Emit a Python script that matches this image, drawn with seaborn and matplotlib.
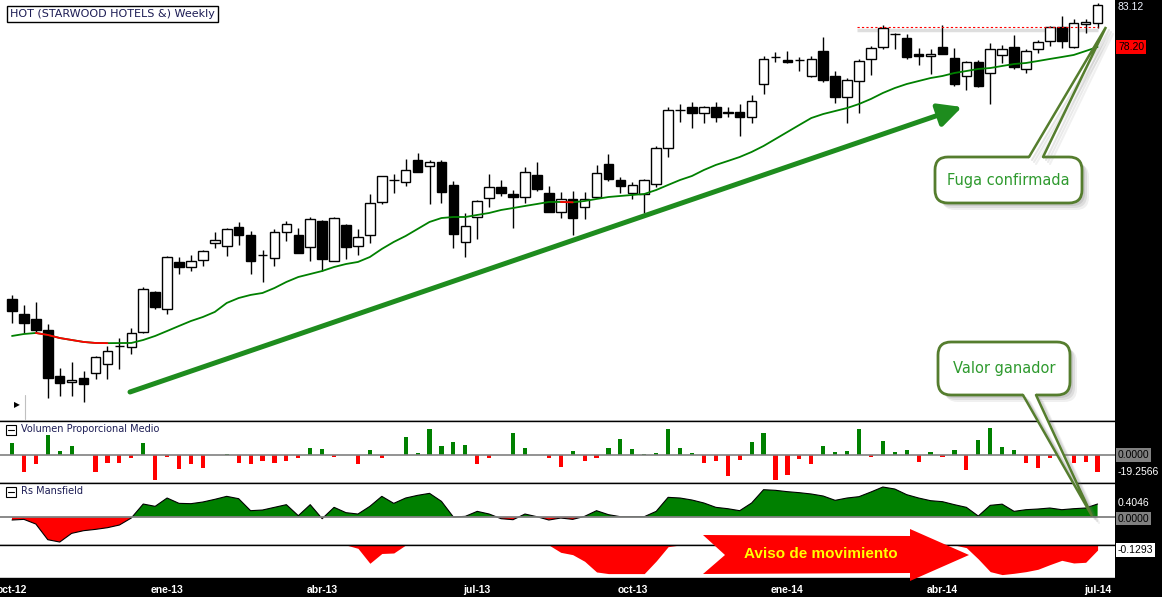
import numpy as np
import pandas as pd
import seaborn as sns
import matplotlib.pyplot as plt
from matplotlib.patches import FancyBboxPatch, Polygon, Rectangle
from matplotlib.transforms import blended_transform_factory

# weekly bars, Oct 2012 - Jul 2014
weeks = pd.date_range("2012-10-05", periods=92, freq="W-FRI")

opens = [48.72, 46.96, 46.38, 45.09, 39.71, 39.01, 39.47, 40.06, 41.11, 43.22,
         43.10, 44.86, 49.54, 47.55, 53.05, 52.46, 53.28, 55.27, 54.92, 57.14,
         56.20, 53.83, 53.51, 56.56, 56.20, 54.80, 57.84, 53.16, 57.38, 54.92,
         56.20, 60.07, 62.64, 62.41, 64.98, 64.28, 64.75, 62.06, 55.39, 58.31,
         60.53, 61.82, 61.00, 60.65, 63.23, 61.12, 58.90, 60.42, 59.48, 60.65,
         64.51, 62.64, 61.12, 61.00, 62.17, 66.38, 70.80, 71.18, 70.48, 71.18,
         70.50, 70.60, 70.01, 73.87, 76.99, 76.68, 76.66, 74.81, 77.73, 74.81,
         72.35, 74.22, 76.80, 78.20, 79.70, 79.25, 77.38, 77.15, 78.20, 76.91,
         74.81, 76.45, 75.16, 77.27, 78.20, 75.63, 77.97, 78.90, 80.54, 78.20,
         80.89, 81.01]
highs = [49.18, 48.01, 48.37, 45.79, 40.64, 41.35, 40.29, 42.05, 43.22, 44.15,
         45.32, 50.12, 49.65, 53.75, 53.63, 53.87, 54.45, 56.56, 57.02, 57.73,
         56.67, 54.45, 56.91, 57.84, 57.02, 58.31, 57.96, 58.31, 57.49, 56.91,
         61.00, 63.11, 63.34, 65.10, 65.80, 64.98, 64.98, 62.52, 58.78, 60.30,
         63.34, 62.64, 61.47, 64.16, 64.75, 61.94, 61.24, 61.35, 61.24, 64.40,
         65.68, 62.99, 62.41, 62.76, 66.62, 71.18, 71.53, 71.77, 71.30, 71.77,
         71.18, 71.53, 72.59, 77.15, 77.62, 77.73, 77.03, 77.15, 79.37, 75.39,
         74.57, 76.80, 78.32, 80.78, 79.84, 79.72, 78.08, 77.97, 80.78, 78.08,
         76.56, 76.68, 78.67, 78.44, 79.61, 77.97, 79.02, 80.66, 81.83, 81.48,
         81.48, 83.35]
lows = [45.91, 44.74, 44.86, 37.13, 37.37, 37.37, 36.67, 39.36, 39.36, 40.53,
        42.28, 44.74, 47.55, 46.96, 51.64, 51.99, 52.58, 54.68, 53.75, 55.03,
        51.64, 50.71, 52.58, 55.50, 54.10, 53.16, 51.99, 53.16, 53.40, 53.87,
        55.27, 59.83, 61.14, 61.94, 63.58, 59.83, 59.95, 54.68, 53.63, 55.74,
        59.48, 60.77, 57.02, 59.95, 61.35, 58.90, 58.19, 56.20, 58.08, 60.65,
        62.52, 61.12, 60.42, 58.78, 61.82, 65.33, 69.43, 68.72, 69.31, 69.43,
        70.01, 67.79, 69.31, 72.70, 76.45, 76.33, 75.39, 74.69, 74.11, 71.65,
        69.31, 70.48, 74.93, 77.97, 77.97, 76.80, 76.10, 75.04, 77.38, 73.64,
        73.17, 73.52, 71.53, 76.33, 75.63, 75.16, 77.50, 78.32, 78.08, 78.08,
        79.84, 80.42]
closes = [47.31, 45.91, 45.09, 39.47, 38.89, 39.24, 38.77, 41.93, 42.63, 43.25,
          44.74, 49.89, 47.78, 53.63, 52.46, 53.16, 54.33, 55.62, 56.91, 56.20,
          53.16, 53.87, 56.56, 57.49, 54.10, 58.08, 53.40, 58.19, 54.80, 55.97,
          59.95, 63.11, 62.68, 63.81, 63.58, 64.75, 61.24, 56.32, 57.26, 60.18,
          61.82, 61.12, 60.65, 63.58, 61.59, 58.90, 60.42, 58.19, 60.42, 63.46,
          62.76, 61.94, 62.06, 62.64, 66.38, 70.83, 70.85, 70.48, 71.18, 70.01,
          70.54, 70.01, 71.88, 76.80, 77.03, 76.45, 76.70, 76.80, 74.34, 72.35,
          74.34, 76.56, 78.08, 80.42, 79.74, 77.03, 77.15, 77.38, 77.38, 73.87,
          76.45, 73.64, 77.97, 77.97, 75.86, 77.73, 78.79, 80.54, 78.90, 81.01,
          81.13, 83.12]
ma30 = [44.39, 44.62, 44.74, 44.51, 44.15, 43.92, 43.69, 43.57, 43.55, 43.56,
        43.57, 43.92, 44.39, 44.97, 45.56, 46.14, 46.61, 47.20, 48.25, 48.83,
        49.19, 49.42, 50.00, 50.71, 51.29, 51.64, 51.99, 52.46, 52.81, 53.05,
        53.63, 54.57, 55.39, 56.09, 56.91, 57.73, 58.19, 58.31, 58.31, 58.55,
        58.78, 59.13, 59.36, 59.60, 59.83, 60.07, 60.07, 60.03, 60.18, 60.42,
        60.65, 60.77, 60.89, 61.00, 61.47, 62.06, 62.64, 63.11, 63.81, 64.40,
        64.86, 65.33, 65.92, 66.62, 67.44, 68.26, 69.08, 69.89, 70.36, 70.71,
        71.06, 71.53, 72.12, 72.82, 73.40, 73.87, 74.22, 74.57, 74.81, 75.16,
        75.39, 75.63, 75.74, 75.98, 76.21, 76.33, 76.56, 76.80, 77.03, 77.27,
        77.73, 78.20]
vpm = [14.2, -19.3, -10.0, 23.1, 5.0, 10.8, 0.0, -19.3, -8.9, -8.9,
       -3.1, 14.2, -28.5, -1.9, -15.8, -10.0, -14.6, 0.0, 1.5, -8.9,
       -10.0, -6.5, -8.9, -6.5, -3.1, 8.5, 7.3, -1.9, 0.0, -10.0,
       6.2, -3.1, 0.0, 21.2, 2.7, 30.4, 10.8, 15.4, 11.9, -10.8,
       -3.1, 0.0, 25.8, 8.5, 0.0, -3.1, -13.5, 5.0, -6.5, -3.1,
       8.5, 18.9, 7.3, 1.5, 2.7, 30.4, 8.5, 2.7, -8.9, -6.5,
       -23.9, -5.4, 15.4, 25.8, -28.5, -22.7, -4.2, -10.0, 10.8, 3.9,
       5.0, 30.4, -1.9, 16.6, 3.9, 6.2, -7.7, 3.9, -1.9, 6.2,
       -16.9, 17.7, 31.6, 9.6, 6.2, -8.9, -14.6, -3.1, -1.9, -8.9,
       -7.7, -19.2566]
rs_mansfield = [-0.093, -0.073, -0.218, -0.705, -0.778, -0.508, -0.425, -0.384, -0.332, -0.249,
                -0.031, 0.404, 0.332, 0.591, 0.425, 0.415, 0.467, 0.550, 0.643, 0.570,
                0.197, 0.218, 0.301, 0.384, 0.041, 0.384, -0.052, 0.301, 0.135, 0.093,
                0.332, 0.643, 0.425, 0.591, 0.674, 0.736, 0.487, 0.000, 0.021, 0.176,
                0.093, -0.052, -0.083, 0.093, 0.010, -0.093, -0.031, -0.073, 0.021, 0.197,
                0.073, 0.010, 0.010, 0.010, 0.176, 0.612, 0.591, 0.529, 0.436, 0.301,
                0.259, 0.197, 0.436, 0.850, 0.830, 0.788, 0.757, 0.716, 0.653, 0.519,
                0.591, 0.633, 0.778, 0.933, 0.871, 0.695, 0.591, 0.508, 0.477, 0.384,
                0.301, 0.030, 0.363, 0.400, 0.176, 0.228, 0.249, 0.280, 0.228, 0.259,
                0.280, 0.4046]
rs_lower = [0.0, 0.0, 0.0, 0.0, 0.0, 0.0, 0.0, 0.0, 0.0, 0.0,
            0.0, 0.0, 0.0, 0.0, 0.0, 0.0, 0.0, 0.0, 0.0, 0.0,
            0.0, 0.0, 0.0, 0.0, 0.0, 0.0, 0.0, 0.0, 0.0, -0.086,
            -0.474, -0.220, -0.207, 0.0, 0.0, 0.0, 0.0, 0.0, 0.0, 0.0,
            0.0, 0.0, 0.0, 0.0, 0.0, 0.0, -0.190, -0.250, -0.422, -0.698,
            -0.741, -0.741, -0.741, -0.741, -0.414, -0.043, 0.0, 0.0, 0.0, 0.0,
            0.0, 0.0, 0.0, 0.0, 0.0, 0.0, 0.0, 0.0, 0.0, 0.0,
            0.0, 0.0, 0.0, 0.0, 0.0, 0.0, 0.0, 0.0, 0.0, 0.0,
            -0.069, -0.362, -0.690, -0.767, -0.733, -0.690, -0.629, -0.509, -0.397, -0.466,
            -0.448, -0.1293]

tick_dates = ["2012-10-05", "2013-01-04", "2013-04-05", "2013-07-05",
              "2013-10-04", "2014-01-03", "2014-04-04", "2014-07-04"]
tick_labels = ["oct-12", "ene-13", "abr-13", "jul-13", "oct-13", "ene-14", "abr-14", "jul-14"]
resistance = 80.54

GREEN = "#008000"
RED = "#ff0000"
OLIVE = "#557d2e"
NAVY = "#1c1c54"

sns.set_style("white")
plt.rcParams["font.family"] = ["DejaVu Sans"]

W, H = 1162, 597
fig = plt.figure(figsize=(W / 100, H / 100), dpi=100, facecolor="black")


def rect(x0, y0, x1, y1):
    return [x0 / W, 1 - y1 / H, (x1 - x0) / W, (y1 - y0) / H]


ax_p = fig.add_axes(rect(0, 0, 1115, 421))
ax_v = fig.add_axes(rect(0, 421, 1115, 483))
ax_r = fig.add_axes(rect(0, 483, 1115, 545))
ax_s = fig.add_axes(rect(0, 545, 1115, 578))

x = np.arange(len(weeks))
o, h, l, c = map(np.array, (opens, highs, lows, closes))
up = c >= o

# candles
ax_p.vlines(x, l, h, color="black", lw=1, zorder=2)
ax_p.bar(x, np.abs(c - o), bottom=np.minimum(o, c), width=0.8,
         color=np.where(up, "white", "black"), edgecolor="black", lw=1, zorder=3)

# moving average, red where it falls
ma = np.array(ma30)
sns.lineplot(x=x, y=ma, color=GREEN, lw=1.3, ax=ax_p, zorder=4)
falling = np.full(len(ma), np.nan)
for k in np.flatnonzero(np.diff(ma) < 0):
    falling[k:k + 2] = ma[k:k + 2]
ax_p.plot(x, falling, color=RED, lw=1.3, zorder=5)

# resistance
ax_p.hlines(resistance - 0.35, 70.8, 91.0, color="#c8c8c8", lw=2.5, alpha=0.6, zorder=1)
ax_p.hlines(resistance, 70.8, 91.0, color=RED, lw=0.8, linestyles=(0, (2, 2)), zorder=6)
ax_p.set_ylim(34.44, 83.70)

# volume
vol = np.array(vpm)
vol_df = pd.DataFrame({"x": x, "v": vol, "sign": np.where(vol >= 0, "up", "down")})
sns.barplot(data=vol_df, x="x", y="v", hue="sign", palette={"up": GREEN, "down": RED},
            native_scale=True, orient="x", width=0.35, dodge=False, legend=False,
            errorbar=None, saturation=1, linewidth=0, ax=ax_v)
ax_v.axhline(0, color="#808080", lw=1.2, zorder=5)
ax_v.set_ylim(-32.3, 39.3)

# Rs Mansfield
rs = np.array(rs_mansfield)
ax_r.fill_between(x, rs, 0, where=rs >= 0, interpolate=True, color=GREEN, lw=0)
ax_r.fill_between(x, rs, 0, where=rs < 0, interpolate=True, color=RED, lw=0)
sns.lineplot(x=x, y=rs, color="black", lw=0.8, ax=ax_r)
ax_r.axhline(0, color="#808080", lw=1.3)
ax_r.set_ylim(-0.87, 1.058)

ax_s.fill_between(x, rs_lower, 0, color=RED, lw=0)
ax_s.set_ylim(-0.855, 0)

for ax in (ax_p, ax_v, ax_r, ax_s):
    ax.set_xlim(-1.006, 92.46)
    ax.set(xlabel="", ylabel="")
    ax.set_facecolor("white")
    for side in ("left", "right"):
        ax.spines[side].set_visible(False)
    for side in ("top", "bottom"):
        ax.spines[side].set_color("black")
        ax.spines[side].set_linewidth(1)
    ax.set_yticks([])
    ax.set_xticks([])
ax_p.spines["top"].set_visible(False)

tick_pos = weeks.get_indexer(pd.to_datetime(tick_dates))
ax_s.set_xticks(tick_pos)
ax_s.set_xticklabels(tick_labels, color="white", fontsize=7.5, fontweight="bold",
                     family="Liberation Sans")
ax_s.tick_params(axis="x", length=0, pad=5)


def side_label(ax, y, text, fg, bg=None):
    tr = blended_transform_factory(ax.transAxes, ax.transData)
    box = dict(boxstyle="square,pad=0.15", fc=bg, ec="none") if bg else None
    ax.text(1.0 + 3 / 1115, y, text, transform=tr, color=fg, fontsize=7.5,
            family="Liberation Sans", va="center", ha="left", bbox=box, clip_on=False)


side_label(ax_p, closes[-1] - 0.2, f"{closes[-1]:.2f}", "#eef3ff")
side_label(ax_p, ma30[-1], f"{ma30[-1]:.2f}", "black", RED)
side_label(ax_v, 0, "0.0000", "black", "#808080")
side_label(ax_v, vpm[-1], f"{vpm[-1]:.4f}", "white")
side_label(ax_r, rs_mansfield[-1] + 0.03, f"{rs_mansfield[-1]:.4f}", "white")
side_label(ax_r, -0.05, "0.0000", "black", "#808080")
side_label(ax_s, rs_lower[-1], f"{rs_lower[-1]:.4f}", "black", "white")

# overlay in pixel units for the annotations
ax_o = fig.add_axes([0, 0, 1, 1], zorder=10)
ax_o.set_xlim(0, W)
ax_o.set_ylim(H, 0)
ax_o.axis("off")

ax_o.text(10, 14, "HOT (STARWOOD HOTELS &) Weekly", fontsize=8, color=NAVY,
          va="center", ha="left",
          bbox=dict(boxstyle="square,pad=0.28", fc="white", ec="black", lw=1))

for ty, name in [(429.5, "Volumen Proporcional Medio"), (491.5, "Rs Mansfield")]:
    ax_o.add_patch(Rectangle((6, ty - 5), 10, 10, fc="white", ec="black", lw=0.8))
    ax_o.plot([8, 14], [ty, ty], color="black", lw=0.8)
    ax_o.text(21, ty, name, fontsize=7, color=NAVY, va="center", ha="left")

ax_o.text(17, 405, "\u25B6", fontsize=5.5, color="black", ha="center", va="center")
ax_o.plot([25, 25], [395, 419], color="#c0c0c0", lw=0.8)

# trend arrow
ax_o.annotate("", xy=(962, 107), xytext=(130, 392),
              arrowprops=dict(arrowstyle="-|>,head_length=1.4,head_width=0.7",
                              color="#1e8c1e", lw=3.6, shrinkA=0, shrinkB=0,
                              mutation_scale=10))


def callout(x0, y0, x1, y1, base, tip, text):
    bw, bh = x1 - x0, y1 - y0
    inner = 3 if tip[1] < y0 else -3
    by = y0 if tip[1] < y0 else y1
    for off, a in [(7, 0.10), (5, 0.14), (3, 0.18)]:
        ax_o.add_patch(FancyBboxPatch((x0 + off, y0 + off), bw, bh,
                                      boxstyle="round,pad=0,rounding_size=13",
                                      fc="#707070", ec="none", alpha=a))
        ax_o.plot([base[0] + off, tip[0] + off, base[1] + off], [by + off, tip[1] + off, by + off],
                  color="#707070", lw=1.5, alpha=a)
    ax_o.add_patch(FancyBboxPatch((x0, y0), bw, bh, boxstyle="round,pad=0,rounding_size=13",
                                  fc="white", ec=OLIVE, lw=2))
    ax_o.add_patch(Polygon([(base[0], by + inner), (base[0], by), tip, (base[1], by),
                            (base[1], by + inner)], closed=True, fc="white", ec="none"))
    ax_o.plot([base[0], tip[0], base[1]], [by, tip[1], by], color=OLIVE, lw=1.8,
              solid_joinstyle="miter")
    ax_o.text((x0 + x1) / 2, (y0 + y1) / 2, text, color="#2f9a2f", fontsize=10.5,
              ha="center", va="center")


callout(935, 157, 1082, 203, (1029, 1043), (1106, 27), "Fuga confirmada")
callout(938, 342, 1070, 395, (1023, 1036), (1092, 516), "Valor ganador")

# signal arrow
ax_o.add_patch(Polygon([(703, 535), (910, 536), (910, 529), (969, 555), (910, 581),
                        (910, 573), (703, 574), (725, 555)], closed=True, fc=RED, ec="none"))
ax_o.text(821, 554, "Aviso de movimiento", color="#ffff00", fontsize=11,
          fontweight="bold", family="Liberation Sans", ha="center", va="center")

fig.savefig("out.png", dpi=100, facecolor=fig.get_facecolor())
